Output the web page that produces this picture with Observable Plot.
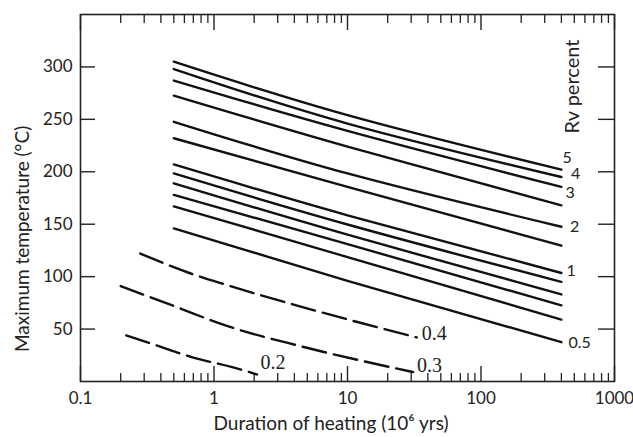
<!DOCTYPE html>
<html>
<head>
<meta charset="utf-8">
<script src="https://cdn.jsdelivr.net/npm/d3@7"></script>
<script src="https://cdn.jsdelivr.net/npm/@observablehq/plot@0.6"></script>
<style>
  html, body { margin: 0; padding: 0; background: #fff; }
  #chart svg { display: block; }
</style>
</head>
<body>
<div id="chart"></div>
<script>
// Durations (10^6 yrs) at which the solid Rv curves were read
const solidDurations = [0.5, 10, 400];
// Solid curves, top to bottom (max temperature °C)
const solid1  = [305, 254, 202];     // Rv 5
const solid2  = [298, 246, 195];     // Rv 4
const solid3  = [287, 239, 185.6];   // Rv 3
const solid4  = [272.6, 224, 168];
const solid5  = [247.7, 198.4, 147.6]; // Rv 2
const solid6  = [232, 185.6, 129.5];
const solid7  = [207, 158.5, 103.5]; // Rv 1
const solid8  = [198.4, 149.7, 95];
const solid9  = [189, 140, 83];
const solid10 = [178, 131, 72.6];
const solid11 = [167, 118.7, 59];
const solid12 = [146, 96, 37.5];     // Rv 0.5
const solidCurves = [solid1, solid2, solid3, solid4, solid5, solid6, solid7, solid8, solid9, solid10, solid11, solid12];

// Dashed curves (low Rv)
const dash04x = [0.28, 0.67, 1.25, 4.6, 33];
const dash04y = [122, 103, 92, 71, 42];
const dash03x = [0.2, 0.5, 1.25, 4.5, 31];
const dash03y = [91, 72, 53, 33.5, 9];
const dash02x = [0.22, 0.37, 0.69, 1.37, 2.1];
const dash02y = [44, 34.5, 23, 13.7, 6.7];

// Axis ticks
const xMajor = [0.1, 1, 10, 100, 1000];
const xMinorDigits = [2, 3, 4, 5, 6, 7, 8, 9];
const yTicks = [50, 100, 150, 200, 250, 300];

const xMinor = [];
for (const d of [0.1, 1, 10, 100]) for (const m of xMinorDigits) xMinor.push(d * m);

const solidData = [];
solidCurves.forEach((c, i) => c.forEach((v, j) => solidData.push({k: i, x: solidDurations[j], y: v})));
const dashedData = [];
[[dash04x, dash04y, "0.4"], [dash03x, dash03y, "0.3"], [dash02x, dash02y, "0.2"]].forEach(([xs, ys, k]) =>
  xs.forEach((x, j) => dashedData.push({k, x, y: ys[j]})));

const endOf = (i) => ({x: solidDurations[solidDurations.length - 1], y: solidCurves[i][solidCurves[i].length - 1]});
const dashEnd = (xs, ys) => ({x: xs[xs.length - 1], y: ys[ys.length - 1]});

const W = 633, H = 437, mL = 80, mR = 19, mT = 14, mB = 56;
const pw = W - mL - mR, ph = H - mT - mB;
const sans = "Lato, 'Open Sans', sans-serif";
const serif = "'Liberation Serif', 'DejaVu Serif', serif";

function solidLabel(i, text, dx, dy) {
  return Plot.text([endOf(i)], {x: "x", y: "y", text: () => text, textAnchor: "start", lineAnchor: "middle", dx, dy, fontSize: 16, fontFamily: sans, fill: "#222"});
}
function dashLabel(xs, ys, text, dx, dy) {
  return Plot.text([dashEnd(xs, ys)], {x: "x", y: "y", text: () => text, textAnchor: "start", lineAnchor: "middle", dx, dy, fontSize: 20, fontFamily: serif, fill: "#222"});
}

const chart = Plot.plot({
  width: W, height: H,
  marginLeft: mL, marginRight: mR, marginTop: mT, marginBottom: mB,
  style: {fontFamily: sans, fontSize: "17px", color: "#222", background: "#fff"},
  x: {type: "log", domain: [0.1, 1000]},
  y: {domain: [0, 350]},
  marks: [
    Plot.frame({stroke: "#222", strokeWidth: 1.6}),
    // inward ticks
    Plot.tickX(xMajor, {x: d => d, insetTop: ph - 15, stroke: "#222", strokeWidth: 1.4}),
    Plot.tickX(xMinor, {x: d => d, insetTop: ph - 8, stroke: "#222", strokeWidth: 1.3}),
    Plot.tickX(xMajor, {x: d => d, insetBottom: ph - 16, stroke: "#222", strokeWidth: 1.4}),
    Plot.tickX(xMinor, {x: d => d, insetBottom: ph - 9, stroke: "#222", strokeWidth: 1.3}),
    Plot.tickY(yTicks, {y: d => d, insetRight: pw - 15, stroke: "#222", strokeWidth: 1.4}),
    Plot.tickY(yTicks, {y: d => d, insetLeft: pw - 16, stroke: "#222", strokeWidth: 1.4}),
    Plot.axisX({ticks: xMajor, tickSize: 0, tickPadding: 10, tickFormat: d => String(d), label: null, fontSize: 17}),
    Plot.axisY({ticks: yTicks, tickSize: 0, tickPadding: 8, label: null, fontSize: 17}),
    // curves
    Plot.line(solidData, {x: "x", y: "y", z: "k", curve: "natural", stroke: "#111", strokeWidth: 2.4}),
    Plot.line(dashedData, {x: "x", y: "y", z: "k", curve: "monotone-x", stroke: "#111", strokeWidth: 2.4, strokeDasharray: "24,8"}),
    // curve labels
    solidLabel(0, "5", 1, -12),
    solidLabel(1, "4", 9.5, -3.5),
    solidLabel(2, "3", 4, 5.5),
    solidLabel(4, "2", 8.5, 0.5),
    solidLabel(6, "1", 5, -2.5),
    solidLabel(11, "0.5", 7, 1),
    dashLabel(dash04x, dash04y, "0.4", 5, -3.5),
    dashLabel(dash03x, dash03y, "0.3", 4, -6.5),
    dashLabel(dash02x, dash02y, "0.2", 3.5, -12),
    Plot.text(["Rv percent"], {frameAnchor: "top-right", text: d => d, rotate: -90, textAnchor: "start", lineAnchor: "middle", dx: -42, dy: 119, fontSize: 20, fontFamily: sans, fill: "#222", ariaLabel: "rvtitle"}),
    // axis titles
    Plot.text(["Duration of heating (10\u2076 yrs)"], {frameAnchor: "bottom", text: d => d, textAnchor: "start", lineAnchor: "middle", dx: -134, dy: 42, fontSize: 19, fontFamily: sans, fill: "#222", ariaLabel: "xtitle"}),
    Plot.text(["Maximum temperature (\u00B0C)"], {frameAnchor: "left", text: d => d, rotate: -90, textAnchor: "start", lineAnchor: "middle", dx: -58, dy: 154, fontSize: 19, fontFamily: sans, fill: "#222", ariaLabel: "ytitle"})
  ]
});
const spacing = {xtitle: "2px", ytitle: "3px", rvtitle: "2.6px"};
for (const [k, v] of Object.entries(spacing)) {
  chart.querySelectorAll(`g[aria-label="${k}"] text`).forEach(t => t.style.letterSpacing = v);
}
document.getElementById("chart").appendChild(chart);
</script>
</body>
</html>
